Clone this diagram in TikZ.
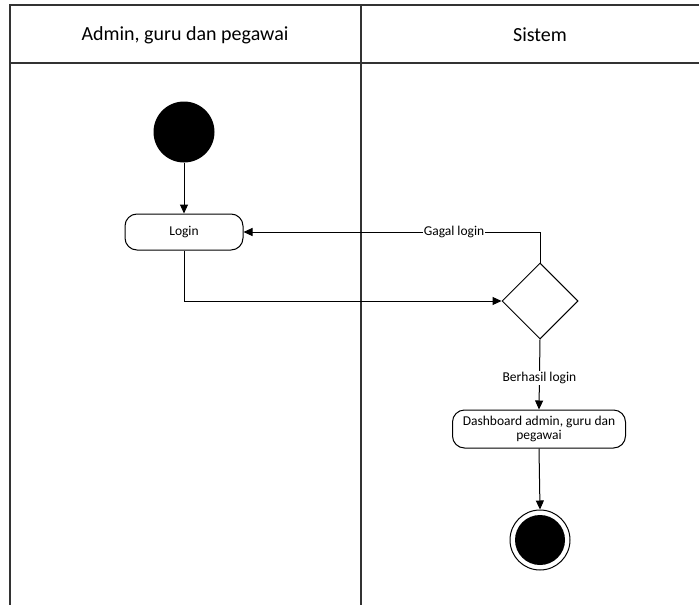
\documentclass[tikz,border=0pt]{standalone}
\usepackage{fontspec}
\setmainfont{Carlito}
\usetikzlibrary{shapes.geometric,arrows.meta}
\begin{document}
\begin{tikzpicture}[x=1pt,y=-1pt,
  lane/.style={draw=black!80,line width=1.2pt},
  act/.style={draw,rounded corners=12pt,line width=1pt,minimum width=118pt,minimum height=36pt,inner sep=1pt,align=center,font=\fontsize{13.5}{14}\selectfont},
  flow/.style={draw,line width=1pt,-{Triangle[length=9pt,width=8pt]}},
  lbl/.style={fill=white,inner sep=1pt,font=\fontsize{13.5}{14}\selectfont},
  hdr/.style={font=\fontsize{20}{22}\selectfont}]
\useasboundingbox (0,0) rectangle (699,605);
\fill[white] (0,0) rectangle (699,605);
% swimlanes
\draw[lane] (10,605) -- (10,5) -- (699,5);
\draw[lane] (10,63) -- (699,63);
\draw[lane] (361,5) -- (361,605);
\node[hdr] (h1) at (185,35) {Admin, guru dan pegawai};
\node[hdr] (h2) at (540,35) {Sistem};
% nodes
\node[circle,fill=black,minimum size=61pt,inner sep=0pt] (start) at (184,132) {};
\node[act] (login) at (184,232) {Login};
\node[diamond,draw,line width=1pt,minimum width=76pt,minimum height=76pt,inner sep=0pt] (dec) at (540,301) {};
\node[act,minimum width=173pt,minimum height=38pt] (dash) at (539,429) {Dashboard admin, guru dan\\pegawai};
\node[circle,draw,line width=1pt,minimum size=60pt,inner sep=0pt] (end) at (540,540) {};
\node[circle,fill=black,minimum size=50pt,inner sep=0pt] (endin) at (end) {};
% flows
\draw[flow] (start) -- (login);
\coordinate (c1) at (login.south |- dec.west);
\draw[flow] (login.south) -- (c1) -- (dec.west);
\coordinate (c2) at (dec.north |- login.east);
\draw[flow] (dec.north) -- (c2) -- node[lbl,pos=0.29] {Gagal login} (login.east);
\draw[flow] (dec.south) -- node[lbl,pos=0.55] {Berhasil login} (dash.north);
\draw[flow] (dash.south) -- (end.north);
\end{tikzpicture}
\end{document}
